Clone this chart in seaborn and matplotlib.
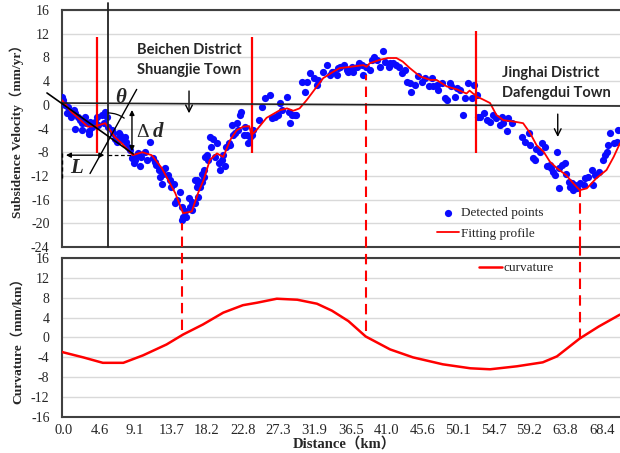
import matplotlib
matplotlib.use("Agg")
import matplotlib.pyplot as plt
from matplotlib.patches import Arc
import numpy as np
import pandas as pd
import seaborn as sns

# detected InSAR points along the profile: distance (km), velocity (mm/yr)
point_km = [-0.2, 0.0, 0.2, 0.4, 0.6, 0.8, 1.0, 1.3, 1.5, 1.5, 1.9, 2.1, 2.3, 2.3, 2.7, 2.9, 3.2, 3.2,
            3.4, 3.6, 4.0, 4.2, 4.4, 4.9, 5.1, 5.3, 5.5, 5.7, 6.1, 6.3, 6.5, 6.8, 7.0, 7.2, 7.4, 7.8,
            8.0, 8.2, 8.5, 8.7, 8.9, 9.1, 9.3, 9.5, 9.7, 9.9, 10.4, 10.6, 11.0, 11.4, 11.6, 11.8, 12.1,
            12.3, 12.5, 12.7, 12.9, 13.3, 13.5, 13.7, 14.0, 14.2, 14.4, 14.8, 15.0, 15.2, 15.4, 15.9,
            16.1, 16.3, 16.7, 16.9, 17.1, 17.6, 17.8, 15.0, 15.6,
            16.3, 16.7, 16.9, 17.1, 17.3, 17.6, 17.8, 18.0, 18.2, 18.4, 18.6, 18.8, 19.0, 19.3, 19.5,
            19.7, 19.9, 20.1, 20.3, 20.5, 20.7, 21.0, 21.2, 21.4, 21.6, 21.8, 22.0, 22.2, 22.4, 22.6,
            22.9, 23.1, 23.3, 23.5, 23.7, 23.9, 24.1, 24.8, 25.2, 25.6, 26.2, 26.5, 26.9, 27.3, 27.5,
            27.7, 28.4, 28.6, 28.8, 29.0, 29.4, 29.6, 30.3, 30.7, 30.9, 31.3, 31.8, 32.2, 32.4, 33.0,
            33.5, 33.9, 34.3, 34.7, 34.9,
            34.1, 35.1, 35.6, 36.0, 36.2, 36.6, 36.8, 37.3, 37.5, 37.9, 38.1, 38.5, 38.9, 39.2, 39.4,
            39.8, 40.2, 40.6, 40.9, 41.3, 41.5, 41.9, 42.3, 42.6, 43.0, 43.4, 43.6, 44.0, 44.2, 44.7,
            45.1, 45.5, 45.9, 46.4, 46.8, 47.0, 47.4, 47.6, 48.1, 48.5, 48.7, 49.1, 49.3, 49.8, 50.0,
            50.4, 50.8, 51.0, 51.4, 51.9, 52.1, 52.5, 52.7,
            52.9, 53.4, 53.8, 54.2, 54.6, 55.0, 55.5, 55.7, 55.9, 56.3, 56.5, 57.0, 58.2, 58.6, 59.1,
            59.3, 59.7, 59.9, 60.1, 60.6, 60.8, 61.2, 61.4, 61.8, 62.0, 62.2, 62.5, 62.7, 62.9, 63.0,
            63.3, 63.7, 63.9, 64.2, 64.4, 64.6, 64.8, 65.0, 65.2, 65.6, 66.1, 66.3, 66.7, 67.1, 67.3,
            67.5, 68.0, 68.6, 68.8, 69.0, 69.2, 69.5, 69.9, 70.3, 70.5]
point_vel = [1.4, 0.8, 0.0, -1.4, -0.3, -1.2, -2.0, -0.9, -1.4, -4.0, -2.0, -2.6, -3.1, -4.3, -2.0, -3.1, -4.5, -4.9,
             -2.9, -3.7, -2.9, -2.0, -3.4, -1.7, -3.1, -1.2, -2.0, -3.7, -4.3, -4.8, -5.7, -6.2, -4.8, -5.1, -5.7, -5.4,
             -6.2, -7.1, -7.6, -9.0, -9.9, -9.3, -8.5, -8.2, -10.4, -8.8, -7.9, -9.3, -6.2, -9.0, -9.6, -10.2, -11.0,
             -12.1, -13.3, -11.6, -10.7, -11.9, -12.7, -13.8, -13.3, -16.6, -16.1, -14.7, -17.2, -18.9, -18.0, -15.8,
             -17.2, -17.8, -12.7, -13.8, -15.5, -13.0, -11.0, -19.5, -19.0,
             -16.4, -16.6, -12.7, -13.5, -13.8, -11.6, -12.1, -8.8, -8.5, -9.3, -5.4, -7.1, -5.7, -8.8, -6.5,
             -9.9, -11.0, -9.3, -8.5, -10.4, -7.1, -6.5, -6.8, -3.4, -5.1, -4.8, -3.1, -4.3, -1.7, -1.2,
             -5.1, -3.7, -5.1, -6.5, -5.4, -5.1, -4.3, -2.6, -0.3, 1.1, 1.7, -2.3, -2.0, -1.7, 0.3,
             -0.9, 1.4, -1.2, -3.1, -1.7, -1.7, -1.7, 3.9, 2.2, 3.9, 5.3, 4.5, 3.3, 4.2, 5.6,
             6.7, 5.0, 5.6, 5.0, 6.2,
             5.6, 6.4, 6.7, 5.9, 5.6, 6.4, 5.6, 6.4, 7.0, 6.7, 5.0, 6.4, 5.9, 7.6, 8.1,
             7.6, 6.4, 9.0, 7.3, 6.4, 7.0, 7.0, 6.7, 6.4, 5.3, 5.9, 3.9, 3.6, 2.2, 3.3,
             4.8, 3.9, 4.5, 3.1, 4.5, 3.1, 3.3, 2.5, 3.6, 1.1, 0.8, 3.6, 3.1, 1.4, 2.8,
             2.5, -1.7, 1.1, 3.6, 1.1, 3.3, 1.7, -2.0,
             -2.0, -1.4, -2.6, -2.9, -1.7, -2.3, -3.4, -2.0, -3.1, -4.5, -2.3, -3.1, -5.4, -6.2, -4.8,
             -6.8, -9.0, -9.3, -7.4, -7.9, -6.5, -7.1, -10.4, -10.2, -10.7, -11.3, -11.8, -7.9, -10.7, -14.1,
             -10.2, -9.9, -11.6, -13.0, -13.8, -13.2, -14.4, -13.5, -14.1, -13.2, -13.5, -12.4, -12.1, -11.0, -13.5,
             -11.8, -11.3, -9.3, -8.5, -7.9, -6.8, -4.8, -6.5, -6.2, -4.3]

# fitted profile
profile_km = [-0.2, 1.0, 2.0, 3.1, 4.1, 5.3, 6.5, 7.4, 8.8, 10.0, 11.2, 12.5, 13.3, 14.2, 15.2, 16.3, 17.1,
              17.8, 18.6, 19.5, 20.3, 21.2, 22.0, 22.8, 23.6, 23.9, 24.5, 25.8, 27.5, 28.4, 29.2, 30.0,
              30.9, 32.2, 33.0, 34.3, 35.1, 36.4, 38.1, 38.5, 38.9, 40.2, 41.2, 42.3, 43.1, 44.0, 45.3,
              46.6, 47.4, 48.7, 50.0, 51.2, 51.6, 52.5, 53.3, 54.2, 55.0, 55.9, 57.1, 58.4, 59.3, 60.1,
              61.0, 61.8, 62.7, 63.9, 64.8, 65.6, 66.5, 67.7, 69.0, 69.9, 70.7]
profile_vel = [0.8, -1.2, -2.4, -3.7, -3.6, -3.1, -5.4, -6.5, -8.5, -8.0, -8.5, -10.7, -12.7, -14.9, -18.3, -18.0, -14.9,
               -12.7, -9.3, -8.2, -8.8, -5.9, -4.3, -3.7, -3.6, -5.1, -4.3, -2.2, -0.9, -0.6, -1.0, -0.6,
               0.8, 3.1, 4.5, 5.6, 6.2, 6.4, 6.7, 6.4, 7.0, 7.6, 7.9, 7.9, 7.3, 6.2, 4.8,
               4.2, 4.2, 3.1, 2.6, 1.9, 2.4, 1.4, 0.9, 0.3, -1.7, -2.6, -2.8, -3.1, -4.8, -6.8,
               -7.9, -9.6, -10.7, -11.9, -13.3, -14.4, -14.1, -12.4, -11.0, -8.8, -6.5]

# curvature of the fitted profile (mm/km)
curv_km = [-0.2, 0.0, 2.5, 5.0, 7.6, 10.1, 13.1, 15.2, 17.7, 20.3, 22.8, 24.6, 27.1, 29.7, 32.2, 34.1,
           36.2, 38.4, 41.5, 44.4, 48.2, 51.7, 54.2, 57.6, 60.9, 62.7, 65.6, 68.0, 70.7]
curv_val = [-2.9, -3.0, -4.0, -5.1, -5.1, -3.6, -1.4, 0.6, 2.6, 5.0, 6.5, 7.0, 7.8, 7.6, 6.8, 5.4,
            3.3, 0.2, -2.4, -4.0, -5.4, -6.2, -6.4, -5.8, -5.0, -3.8, -0.2, 2.2, 4.6]

# extreme points of the profile and the curvature there
extreme_km = [15.1, 38.4, 65.6]
extreme_vel = [-20.0, 5.0, -14.4]
extreme_curv = [1.5, 1.3, -0.4]

# boundaries of subsidence segments
boundary_km = [4.26, 23.95, 52.4]
boundary_top = [11.4, 11.4, 12.5]
boundary_bottom = -8.2

dist_ticks = [0.0, 4.6, 9.1, 13.7, 18.2, 22.8, 27.3, 31.9, 36.5, 41.0, 45.6, 50.1, 54.7, 59.2, 63.8, 68.4]

sns.set_theme(style="white", rc={"axes.unicode_minus": False})
plt.rcParams['font.family'] = ['Liberation Serif', 'Noto Sans CJK SC']

df_points = pd.DataFrame({'km': point_km, 'vel': point_vel})
df_profile = pd.DataFrame({'km': profile_km, 'vel': profile_vel})
df_curv = pd.DataFrame({'km': curv_km, 'curv': curv_val})

fig = plt.figure(figsize=(6.2, 4.53), dpi=100)
ax1 = fig.add_axes([0.1, 0.4547, 0.9, 0.5232])
ax2 = fig.add_axes([0.1, 0.0795, 0.9, 0.351])

red = '#ff0000'
blue = '#0a0aff'
spine_col = '#404040'

for ax in (ax1, ax2):
    ax.set_xlim(-0.19, 70.71)
    ax.yaxis.grid(True, color='#d9d9d9', lw=1)
    ax.set_axisbelow(True)
    ax.spines['right'].set_visible(False)
    for s in ('top', 'left', 'bottom'):
        ax.spines[s].set_color(spine_col)
        ax.spines[s].set_linewidth(1.5)
    ax.tick_params(axis='y', length=0, pad=9, labelsize=10)

# ---- top panel: profile ----
ax1.set_ylim(-24, 16)
ax1.set_yticks(np.arange(-24, 17, 4))
ax1.set_xticks([])
sns.scatterplot(ax=ax1, data=df_points, x='km', y='vel', color=blue, s=27, linewidth=0,
                label='Detected points', zorder=3)
sns.lineplot(ax=ax1, data=df_profile, x='km', y='vel', color=red, lw=1.3,
             label='Fitting profile', zorder=4)
ax1.vlines(boundary_km, boundary_bottom, boundary_top, color=red, lw=1.6, zorder=5)
ax1.vlines(extreme_km, -24, extreme_vel, color=red, lw=1.5, linestyles=(0, (5, 3)), zorder=5)
ax1.plot([-0.19, 70.71], [0.3, -0.2], color='#222222', lw=1.2, zorder=5)
ax1.plot([5.65, 5.65], [17.2, -24], color='#222222', lw=1.3, zorder=5, clip_on=False)

# geometry sketch
ax1.plot([-2.1, 8.87], [2.0, -8.3], color='black', lw=1.2, zorder=6, clip_on=False)
ax1.plot([3.37, 9.3], [-11.6, 2.6], color='black', lw=1.0, zorder=6)
ax1.annotate('', xy=(8.7, -0.4), xytext=(8.7, -8.3),
             arrowprops=dict(arrowstyle='<|-|>', color='black', lw=1, mutation_scale=7), zorder=6)
ax1.annotate('', xy=(-0.05, -8.5), xytext=(5.55, -8.5),
             arrowprops=dict(arrowstyle='<|-|>', color='black', lw=1, mutation_scale=7), zorder=6)
ax1.plot([5.65, 8.7], [-8.5, -8.5], color='black', lw=0.9, ls=(0, (3, 2)), zorder=6)
ax1.plot([-0.15, -0.15], [-8.2, -12.7], color='black', lw=1.0, ls=(0, (3, 2)), zorder=6, clip_on=False)
ax1.add_patch(Arc((5.65, -6.1), 7.1, 9.45, theta1=61, theta2=90, color='black', lw=0.9, zorder=6))
ax1.text(7.3, 1.2, 'θ', fontsize=15, fontweight='bold', fontstyle='italic', ha='center', va='center', zorder=7)
ax1.text(9.3, -4.6, 'Δ', fontsize=14, ha='left', va='center', zorder=7)
ax1.text(11.3, -4.6, 'd', fontsize=15, fontweight='bold', fontstyle='italic', ha='left', va='center', zorder=7)
ax1.text(1.7, -10.7, 'L', fontsize=15, fontweight='bold', fontstyle='italic', ha='center', va='center', zorder=7)

# place names
ax1.text(9.3, 9.25, 'Beichen District', family='Lato', fontweight='bold', fontsize=10.5, va='center')
ax1.text(9.3, 5.9, 'Shuangjie Town', family='Lato', fontweight='bold', fontsize=10.5, va='center')
ax1.annotate('', xy=(15.95, -1.9), xytext=(15.95, 2.8),
             arrowprops=dict(arrowstyle='->', color='black', lw=1))
ax1.text(55.7, 5.4, 'Jinghai District', family='Lato', fontweight='bold', fontsize=10.5, va='center')
ax1.text(55.7, 2.0, 'Dafengdui Town', family='Lato', fontweight='bold', fontsize=10.5, va='center')
ax1.annotate('', xy=(62.8, -5.9), xytext=(62.8, -1.1),
             arrowprops=dict(arrowstyle='->', color='black', lw=1))

ax1.legend(loc='center left', bbox_to_anchor=(0.66, 0.10), frameon=False, fontsize=9.5,
           handlelength=1.7, handletextpad=0.1, labelspacing=0.6, borderpad=0)
ax1.set_xlabel('')
ax1.set_ylabel('Subsidence Velocity（mm/yr）', fontweight='bold', fontsize=9.7)
ax1.yaxis.set_label_coords(-0.068, 0.5)

# ---- bottom panel: curvature ----
ax2.set_ylim(-16, 16)
ax2.set_yticks(np.arange(-16, 17, 4))
sns.lineplot(ax=ax2, data=df_curv, x='km', y='curv', color=red, lw=1.8, label='curvature', zorder=4)
ax2.vlines(extreme_km, extreme_curv, 18.2, color=red, lw=1.5, linestyles=(0, (5, 3)),
           zorder=5, clip_on=False)
ax2.set_xticks(dist_ticks)
ax2.set_xticklabels(['%.1f' % t for t in dist_ticks])
ax2.tick_params(axis='x', length=0, pad=5, labelsize=10.5)
ax2.legend(loc='center left', bbox_to_anchor=(0.735, 0.935), frameon=False, fontsize=9.5,
           handlelength=1.8, handletextpad=0.05, borderpad=0)
ax2.set_xlabel('Distance（km）', fontweight='bold', fontsize=10.5, labelpad=0)
ax2.xaxis.set_label_coords(0.507, -0.125)
ax2.set_ylabel('Curvature（mm/km）', fontweight='bold', fontsize=9.7)
ax2.yaxis.set_label_coords(-0.068, 0.5)

fig.savefig('out.png', dpi=100)
